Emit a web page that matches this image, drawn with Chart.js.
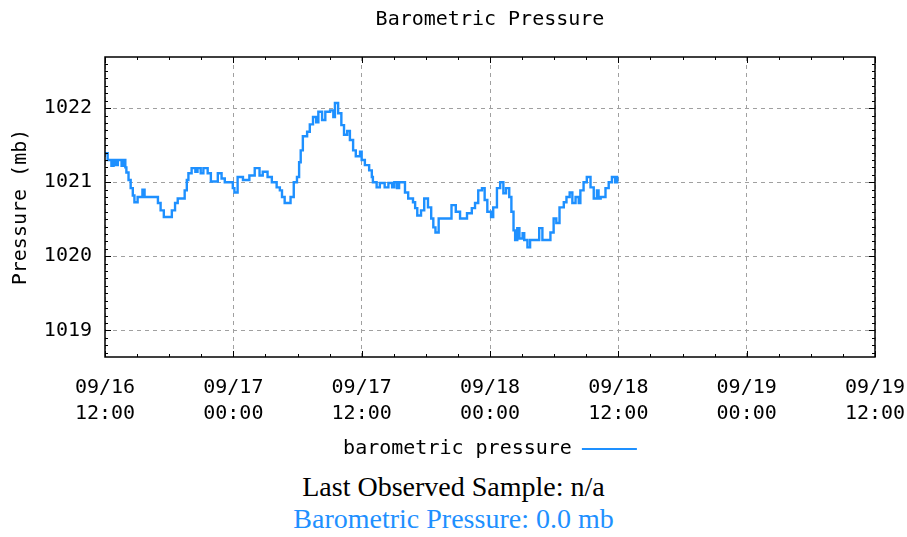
<!DOCTYPE html>
<html>
<head>
<meta charset="utf-8">
<script src="https://cdn.jsdelivr.net/npm/chart.js@4.4.1/dist/chart.umd.min.js"></script>
<style>
  html, body { margin: 0; padding: 0; background: #fff; }
  #wrap { position: relative; width: 907px; height: 469px; }
  .note { text-align: center; font-family: "Liberation Serif", "Times New Roman", serif; font-size: 28px; line-height: 32px; }
  #n1 { color: #000; margin-top: 2px; }
  #n2 { color: #1e90ff; }
</style>
</head>
<body>
<div id="wrap"><canvas id="c"></canvas></div>
<div class="note" id="n1">Last Observed Sample: n/a</div>
<div class="note" id="n2">Barometric Pressure: 0.0 mb</div>
<script>
// hours since 09/16 12:00
const hours = [0.0,0.25,0.6,0.8,1.0,1.2,1.55,1.75,1.9,2.0,2.2,2.4,2.6,2.75,3.05,3.5,3.7,4.95,5.2,5.5,
  6.25,6.55,6.8,7.45,7.65,7.8,8.1,8.45,8.65,8.95,9.2,9.6,9.9,10.55,10.9,11.2,11.95,12.1,12.4,12.9,
  13.5,14.0,14.45,14.75,15.2,15.6,16.05,16.35,16.55,16.8,17.35,17.65,17.95,18.15,18.3,18.5,18.9,19.15,19.45,19.75,
  19.95,20.3,20.6,21.05,21.35,21.5,21.8,22.1,22.35,22.65,22.9,23.2,23.45,23.85,24.0,24.3,24.7,24.95,25.05,25.4,
  25.7,26.15,26.5,26.85,27.05,27.3,27.5,28.05,28.35,28.8,29.0,29.2,29.55,29.85,30.2,30.5,30.7,30.9,31.2,32.4,
  32.8,33.2,33.85,34.3,34.6,34.9,35.25,35.5,35.75,36.1,36.3,36.65,36.95,37.25,37.5,37.8,38.0,38.2,38.35,38.55,
  38.75,39.05,39.2,39.5,39.75,40.5,40.6,40.9,41.65,41.95,42.2,42.5,42.9,43.15,43.45,43.7,44.0,44.3,44.45,44.75,
  45.05,45.4,45.7,46.0,46.15,46.35,46.8,47.1,47.4,47.7,47.9,48.0];
const pressure = [1021.39,1021.30,1021.22,1021.30,1021.23,1021.30,1021.22,1021.30,1021.20,1021.13,1021.03,1020.92,1020.82,1020.73,1020.80,1020.90,1020.80,1020.72,1020.62,1020.53,
  1020.62,1020.72,1020.78,1020.89,1021.03,1021.12,1021.19,1021.14,1021.19,1021.12,1021.19,1021.12,1021.01,1021.12,1021.05,1021.00,1020.92,1020.86,1021.07,1021.03,
  1021.09,1021.19,1021.09,1021.14,1021.07,1021.00,1020.93,1020.89,1020.80,1020.72,1020.80,1021.00,1021.07,1021.27,1021.43,1021.62,1021.68,1021.78,1021.88,1021.81,
  1021.95,1021.84,1021.95,1021.97,1021.88,1022.07,1021.93,1021.77,1021.64,1021.69,1021.57,1021.43,1021.35,1021.41,1021.30,1021.23,1021.16,1021.07,1021.00,1020.93,
  1020.99,1020.93,1020.99,1020.93,1021.00,1020.92,1021.00,1020.86,1020.78,1020.73,1020.65,1020.55,1020.62,1020.78,1020.66,1020.51,1020.39,1020.32,1020.51,1020.69,
  1020.60,1020.51,1020.58,1020.65,1020.72,1020.89,1020.92,1020.76,1020.60,1020.53,1020.66,1020.92,1021.00,1020.85,1020.92,1020.80,1020.60,1020.35,1020.22,1020.38,
  1020.24,1020.31,1020.22,1020.12,1020.22,1020.22,1020.38,1020.22,1020.32,1020.51,1020.45,1020.66,1020.73,1020.80,1020.86,1020.72,1020.80,1020.72,1020.89,1021.00,
  1021.07,1020.93,1020.78,1020.89,1020.78,1020.80,1020.92,1021.00,1021.07,1021.00,1021.07,1021.07];

const xTickHours = [0, 12, 24, 36, 48, 60, 72];
const xTickDates = ['09/16', '09/17', '09/17', '09/18', '09/18', '09/19', '09/19'];
const xTickTimes = ['12:00', '00:00', '12:00', '00:00', '12:00', '00:00', '12:00'];
const yTickValues = [1019, 1020, 1021, 1022];

const Y_MIN = 1018.64, Y_MAX = 1022.69;
const MONO = '"DejaVu Sans Mono", "Liberation Mono", monospace';
const BLUE = '#1e90ff';

const boxPlugin = {
  id: 'gnuplotBox',
  afterDraw(chart) {
    const { ctx, chartArea: a, scales } = chart;
    const x = scales.x, y = scales.y;
    ctx.save();
    ctx.strokeStyle = '#000';
    ctx.lineWidth = 1;
    ctx.beginPath();
    for (let h = 0; h <= 72; h += 3) {
      const px = Math.round(x.getPixelForValue(h)) + 0.5;
      const len = (h % 12 === 0) ? 6 : 3;
      ctx.moveTo(px, a.bottom); ctx.lineTo(px, a.bottom - len);
      ctx.moveTo(px, a.top); ctx.lineTo(px, a.top + len);
    }
    for (let i = Math.ceil(Y_MIN * 10); i <= Math.floor(Y_MAX * 10); i++) {
      const py = Math.round(y.getPixelForValue(i / 10)) + 0.5;
      const len = (i % 10 === 0) ? 6 : 3;
      ctx.moveTo(a.left, py); ctx.lineTo(a.left + len, py);
      ctx.moveTo(a.right, py); ctx.lineTo(a.right - len, py);
    }
    ctx.stroke();
    ctx.lineWidth = 1.5;
    ctx.strokeRect(a.left, a.top, a.right - a.left, a.bottom - a.top);
    ctx.restore();
  }
};

new Chart(document.getElementById('c'), {
  type: 'line',
  data: {
    datasets: [{
      label: 'barometric pressure',
      data: hours.map((h, i) => ({ x: h, y: pressure[i] })),
      borderColor: BLUE,
      backgroundColor: BLUE,
      borderWidth: 2.4,
      stepped: true,
      pointRadius: 0,
      fill: false
    }]
  },
  options: {
    responsive: true,
    maintainAspectRatio: false,
    animation: false,
    layout: { padding: { left: 0, right: 32, top: 0, bottom: 0 } },
    plugins: {
      title: {
        display: true,
        fullSize: false,
        text: 'Barometric Pressure',
        color: '#000',
        font: { family: MONO, size: 20, weight: 'normal', lineHeight: 1.2 },
        padding: { top: 8, bottom: 25 }
      },
      legend: {
        display: true,
        position: 'bottom',
        fullSize: false,
        rtl: true,
        textDirection: 'ltr',
        labels: {
          color: '#000',
          font: { family: MONO, size: 20 },
          boxWidth: 55,
          boxHeight: 2,
          padding: 12,
          generateLabels: (chart) => chart.data.datasets.map((ds, i) => ({
            text: ds.label,
            fillStyle: ds.borderColor,
            strokeStyle: ds.borderColor,
            lineWidth: 0,
            hidden: false,
            datasetIndex: i,
            fontColor: '#000'
          }))
        }
      },
      tooltip: { enabled: false }
    },
    scales: {
      x: {
        type: 'linear',
        min: 0,
        max: 72,
        afterBuildTicks: (s) => { s.ticks = xTickHours.map(v => ({ value: v })); },
        afterFit: (s) => { s.height = 70; s.paddingRight = 0; s.paddingLeft = 0; },
        grid: { color: '#a0a0a0', lineWidth: 1, drawTicks: false },
        border: { display: false, dash: [4, 4] },
        ticks: {
          color: '#000',
          padding: 18,
          maxRotation: 0,
          autoSkip: false,
          font: { family: MONO, size: 20, lineHeight: 1.3 },
          callback: (v) => {
            const i = xTickHours.indexOf(v);
            return i >= 0 ? [xTickDates[i], xTickTimes[i]] : '';
          }
        }
      },
      y: {
        type: 'linear',
        min: Y_MIN,
        max: Y_MAX,
        afterBuildTicks: (s) => { s.ticks = yTickValues.map(v => ({ value: v })); },
        afterFit: (s) => { s.width = 105; },
        grid: { color: '#a0a0a0', lineWidth: 1, drawTicks: false },
        border: { display: false, dash: [4, 4] },
        title: {
          display: true,
          text: 'Pressure (mb)',
          color: '#000',
          font: { family: MONO, size: 20, lineHeight: 1.2 },
          padding: { top: 9, bottom: 0 }
        },
        ticks: {
          color: '#000',
          padding: 13,
          font: { family: MONO, size: 20 },
          callback: (v) => String(v)
        }
      }
    }
  },
  plugins: [boxPlugin]
});
</script>
</body>
</html>
